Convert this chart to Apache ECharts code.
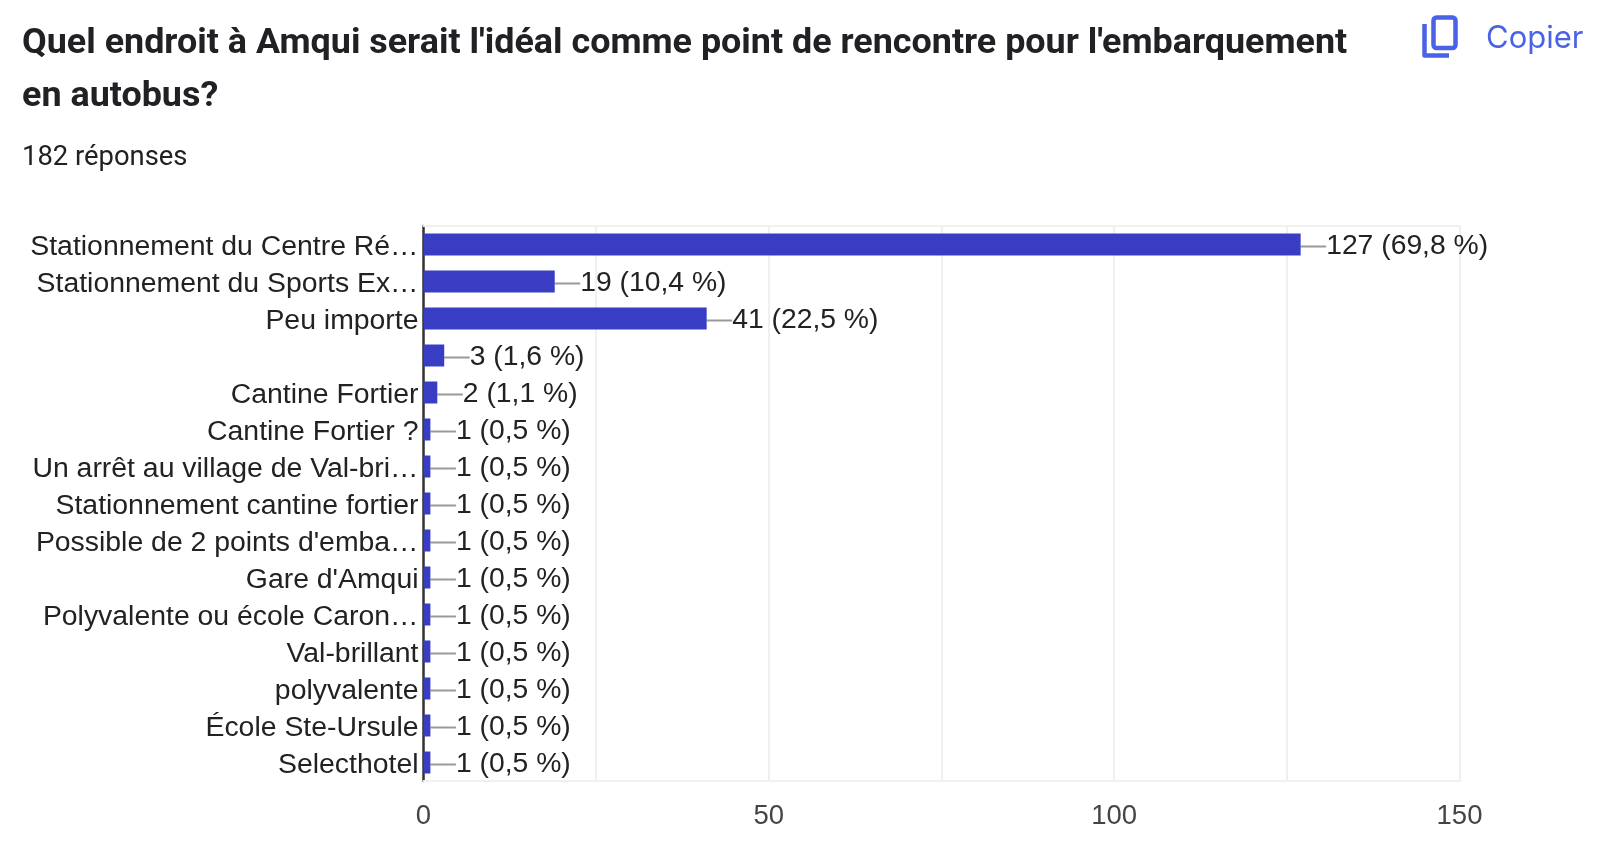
<!DOCTYPE html>
<html><head><meta charset="utf-8">
<style>html,body{margin:0;padding:0;background:#fff}#c{width:1599px;height:857px}</style>
<script src="https://cdn.jsdelivr.net/npm/echarts@6/dist/echarts.min.js"></script>
</head><body><div id="c"></div>
<script>
const categories = ["Stationnement du Centre Ré…","Stationnement du Sports Ex…","Peu importe"," ","Cantine Fortier","Cantine Fortier ?","Un arrêt au village de Val-bri…","Stationnement cantine fortier","Possible de 2 points d'emba…","Gare d'Amqui","Polyvalente ou école Caron…","Val-brillant","polyvalente","École Ste-Ursule","Selecthotel"];
const counts = [127,19,41,3,2,1,1,1,1,1,1,1,1,1,1];
const percents = ["69,8","10,4","22,5","1,6","1,1","0,5","0,5","0,5","0,5","0,5","0,5","0,5","0,5","0,5","0,5"];
const valueTicks = ["0","50","100","150"];
const titleLines = "Quel endroit à Amqui serait l'idéal comme point de rencontre pour l'embarquement\nen autobus?";
const subtitle = "182 réponses";
const copyLabel = "Copier";

const chart = echarts.init(document.getElementById('c'));
const blue = '#4a62e6';
const lightLine = {show:true,lineStyle:{color:'#f0f0f0',width:2}};
chart.setOption({
  animation:false,
  title:[
    {text:titleLines,left:17,top:13,textStyle:{fontFamily:'Roboto',fontWeight:700,fontSize:35.9,lineHeight:53,color:'#202124'}},
    {text:subtitle,left:17,top:140,textStyle:{fontFamily:'Roboto',fontWeight:400,fontSize:27.4,color:'#202124'}}
  ],
  grid:{left:423.5,right:139.5,top:226,bottom:76,containLabel:false},
  xAxis:[
   {type:'value',min:0,max:150,interval:25,position:'bottom',
    axisLine:lightLine,axisTick:{show:false},
    axisLabel:{margin:21,fontFamily:'Liberation Sans',fontSize:27.5,color:'#444',
      formatter:v=>valueTicks.includes(String(v))?String(v):''},
    splitLine:{show:true,lineStyle:{color:'#f0f0f0',width:2}}},
   {type:'value',min:0,max:150,interval:25,position:'top',
    axisLine:lightLine,axisTick:{show:false},axisLabel:{show:false},splitLine:{show:false}}
  ],
  yAxis:{type:'category',inverse:true,data:categories,
    axisLine:{show:true,onZero:false,lineStyle:{color:'#333',width:2.5}},axisTick:{show:false},
    axisLabel:{margin:5,interval:0,fontFamily:'Liberation Sans',fontSize:28.4,color:'#222',verticalAlign:'top',lineHeight:6},
    splitLine:{show:false}},
  series:[{type:'bar',xAxisIndex:0,data:counts,barWidth:22,
    itemStyle:{color:'#393dc4',borderWidth:0},
    label:{show:true,position:'right',distance:0,
      formatter:p=>'{a|'+p.value+' ('+percents[p.dataIndex]+' %)}',
      rich:{a:{fontFamily:'Liberation Sans',fontSize:28.3,color:'#222',padding:[4,0,0,0]}}},
    labelLayout:{dx:25.5},
    labelLine:{show:true,lineStyle:{color:'#999',width:2}}
  }],
  graphic:[
    {type:'rect',shape:{x:1433.5,y:17.5,width:22,height:30.5,r:3},style:{fill:'none',stroke:blue,lineWidth:4.5}},
    {type:'polyline',shape:{points:[[1424.5,24],[1424.5,55.5],[1449,55.5]]},style:{fill:'none',stroke:blue,lineWidth:4.5,lineJoin:'round'}},
    {type:'text',x:1486,y:39,style:{text:copyLabel,fontFamily:'Inter',fontSize:31,fill:blue,verticalAlign:'middle'}}
  ]
});
</script></body></html>
